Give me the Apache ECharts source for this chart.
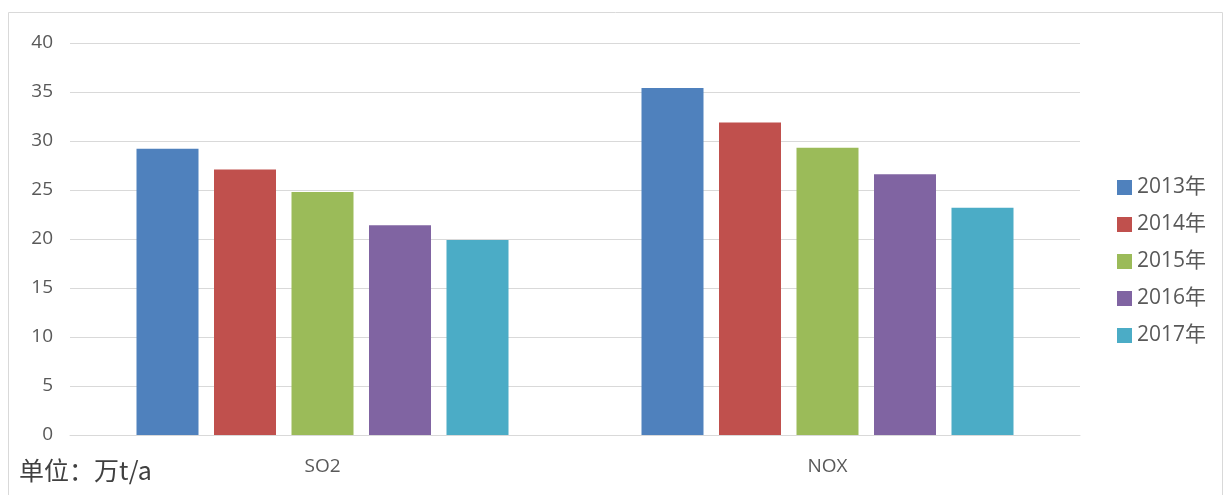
<!DOCTYPE html>
<html><head><meta charset="utf-8">
<script src="https://cdn.jsdelivr.net/npm/echarts@6/dist/echarts.min.js"></script>
<style>html,body{margin:0;padding:0;background:#fff}#c{width:1227px;height:495px}</style>
</head><body><div id="c"></div>
<script>
const categories = ['SO2', 'NOX'];
const seriesNames = ['2013年', '2014年', '2015年', '2016年', '2017年'];
const v2013 = [29.2, 35.4];
const v2014 = [27.1, 31.9];
const v2015 = [24.8, 29.3];
const v2016 = [21.4, 26.6];
const v2017 = [19.9, 23.2];
const yTicks = [0, 5, 10, 15, 20, 25, 30, 35, 40];
const colors = ['#4F81BD', '#C0504D', '#9BBB59', '#8064A2', '#4BACC6'];
const values = [v2013, v2014, v2015, v2016, v2017];
const font = '"Open Sans", "Noto Sans CJK SC", sans-serif';
const chart = echarts.init(document.getElementById('c'), null, {renderer: 'canvas'});
chart.setOption({
  animation: false,
  color: colors,
  textStyle: {fontFamily: font},
  grid: {left: 70, right: 147, top: 43, bottom: 60, containLabel: false},
  graphic: [
    {type: 'rect', shape: {x: 8.5, y: 12.5, width: 1214, height: 490}, style: {fill: 'none', stroke: '#d9d9d9', lineWidth: 1}},
    {type: 'text', left: 19, top: 458, style: {text: '单位：万t/a', font: '25px "Noto Sans CJK SC", sans-serif', fill: '#404040'}}
  ],
  legend: {
    orient: 'vertical', left: 1112, top: 172, itemWidth: 15, itemHeight: 15, itemGap: 16,
    icon: 'rect',
    textStyle: {fontSize: 21, lineHeight: 21, color: '#595959', fontFamily: font, padding: [0, 0, 0, 0]},
    data: seriesNames
  },
  xAxis: {
    type: 'category', data: categories,
    axisLine: {show: true, lineStyle: {color: '#d9d9d9'}},
    axisTick: {show: false},
    axisLabel: {fontSize: 19, color: '#595959', margin: 22, fontFamily: font}
  },
  yAxis: {
    type: 'value', min: 0, max: 40, interval: 5,
    axisLine: {show: false}, axisTick: {show: false},
    splitLine: {lineStyle: {color: '#d9d9d9', width: 1}},
    axisLabel: {fontSize: 19, color: '#595959', margin: 17, fontFamily: font,
      formatter: v => yTicks.includes(v) ? String(v) : ''}
  },
  series: seriesNames.map((n, i) => ({
    name: n, type: 'bar', data: values[i], barWidth: 62, barGap: '25%',
    itemStyle: {color: colors[i]}
  }))
});
</script></body></html>
